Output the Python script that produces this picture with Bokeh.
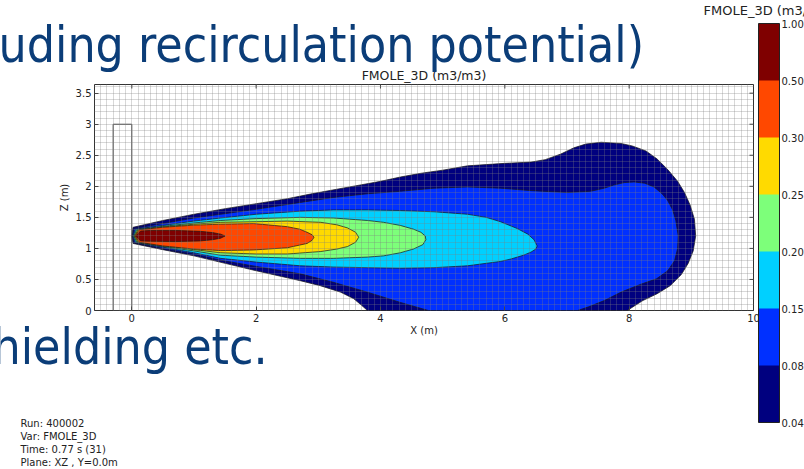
import numpy as np
from bokeh.plotting import figure
from bokeh.layouts import column, row
from bokeh.models import (Range1d, FixedTicker, ColorBar, LinearColorMapper, Label)
from bokeh.embed import file_html
from bokeh.resources import INLINE

# Contour levels of FMOLE_3D (m3/m3) and the fill colour of each band
levels = [0.04, 0.08, 0.15, 0.20, 0.25, 0.30, 0.50, 1.00]
band_colors = ["#00007f", "#0030ff", "#00d0ff", "#7dff7a", "#ffda00", "#ff4800", "#7f0000"]

# Axis ticks
x_ticks = [0, 2, 4, 6, 8, 10]
x_tick_labels = ["0", "2", "4", "6", "8", "10"]
z_ticks = [0, 0.5, 1, 1.5, 2, 2.5, 3, 3.5]
z_tick_labels = ["0", "0.5", "1", "1.5", "2", "2.5", "3", "3.5"]

# Wall next to the release point (m)
wall_x = [-0.3, 0.0]
wall_z = [0.0, 3.0]

# Outline of each filled contour band in the XZ plane (x, z in m)
c004_x = [0.00, 0.02, 0.5, 1.0, 1.5, 2.0, 2.5, 2.87, 3.5, 4.0, 4.32, 4.65, 5.0, 5.4, 6.0, 6.42, 6.65,
          6.90, 7.11, 7.30, 7.55, 7.87, 8.05, 8.27, 8.45, 8.62, 8.78, 8.89, 8.98, 9.05, 9.07, 9.03,
          8.95, 8.84, 8.66, 8.45, 8.22, 7.97, 3.79, 3.70, 3.57, 3.36, 3.03, 2.71, 2.0, 1.5, 1.0, 0.5, 0.02]
c004_z = [1.20, 1.34, 1.45, 1.55, 1.64, 1.72, 1.80, 1.875, 1.99, 2.08, 2.15, 2.21, 2.26, 2.33, 2.37, 2.39, 2.43,
          2.52, 2.62, 2.68, 2.71, 2.69, 2.65, 2.57, 2.44, 2.27, 2.08, 1.90, 1.70, 1.47, 1.20, 0.96,
          0.76, 0.58, 0.40, 0.27, 0.16, 0.0, 0.0, 0.08, 0.19, 0.295, 0.40, 0.48, 0.64, 0.76, 0.88, 0.98, 1.08]

c008_x = [0.01, 0.04, 0.5, 1.0, 1.43, 2.0, 2.71, 3.24, 3.79, 4.32, 4.86, 5.40, 5.93, 6.43, 7.01, 7.38,
          7.60, 7.75, 7.92, 8.08, 8.25, 8.40, 8.53, 8.62, 8.70, 8.75, 8.79, 8.78, 8.73, 8.62, 8.44, 8.18,
          7.88, 7.60, 7.35, 7.17, 4.77, 4.32, 3.79, 3.24, 2.71, 2.0, 1.43, 1.0, 0.5, 0.04]
c008_z = [1.20, 1.32, 1.40, 1.49, 1.55, 1.63, 1.74, 1.82, 1.88, 1.92, 1.97, 1.99, 1.97, 1.93, 1.90, 1.92,
          1.97, 2.02, 2.06, 2.07, 2.05, 1.99, 1.88, 1.77, 1.62, 1.45, 1.20, 1.00, 0.80, 0.64, 0.51, 0.42,
          0.30, 0.16, 0.06, 0.0, 0.0, 0.13, 0.295, 0.455, 0.59, 0.71, 0.81, 0.91, 1.00, 1.09]

c015_x = [0.02, 0.06, 0.5, 1.0, 1.43, 2.0, 2.71, 3.24, 3.79, 4.32, 4.86, 5.40, 5.70, 5.93, 6.20, 6.37,
          6.47, 6.52, 6.50, 6.42, 6.30, 6.10, 5.93, 5.40, 4.86, 4.32, 3.79, 3.24, 2.71, 2.0, 1.43, 1.0,
          0.5, 0.06]
c015_z = [1.20, 1.31, 1.37, 1.44, 1.49, 1.55, 1.60, 1.62, 1.62, 1.61, 1.59, 1.55, 1.50, 1.43, 1.32, 1.23,
          1.14, 1.04, 0.99, 0.94, 0.89, 0.83, 0.79, 0.72, 0.69, 0.68, 0.69, 0.70, 0.72, 0.78, 0.84, 0.93,
          1.02, 1.095]

c020_x = [0.03, 0.08, 0.5, 1.0, 1.43, 2.0, 2.71, 3.24, 3.79, 4.05, 4.32, 4.53, 4.65, 4.72, 4.73, 4.68,
          4.53, 4.32, 4.05, 3.79, 3.24, 2.71, 2.0, 1.43, 1.0, 0.5, 0.08]
c020_z = [1.20, 1.305, 1.355, 1.41, 1.45, 1.48, 1.50, 1.49, 1.45, 1.42, 1.37, 1.31, 1.26, 1.20, 1.14, 1.06,
          0.99, 0.93, 0.88, 0.86, 0.84, 0.84, 0.86, 0.89, 0.96, 1.03, 1.10]

c025_x = [0.04, 0.10, 0.5, 1.0, 1.43, 2.0, 2.5, 3.04, 3.30, 3.47, 3.60, 3.65, 3.60, 3.47, 3.30, 3.04,
          2.5, 2.0, 1.43, 1.0, 0.5, 0.10]
c025_z = [1.20, 1.30, 1.345, 1.39, 1.42, 1.43, 1.44, 1.42, 1.38, 1.33, 1.26, 1.18, 1.10, 1.03, 0.99, 0.95,
          0.91, 0.91, 0.93, 0.98, 1.04, 1.10]

c030_x = [0.05, 0.12, 0.5, 1.0, 1.43, 1.96, 2.5, 2.70, 2.82, 2.90, 2.93, 2.90, 2.82, 2.5, 1.96, 1.43,
          1.0, 0.5, 0.12]
c030_z = [1.20, 1.30, 1.34, 1.375, 1.39, 1.40, 1.35, 1.31, 1.26, 1.22, 1.18, 1.13, 1.08, 1.01, 0.975, 0.965,
          0.99, 1.04, 1.10]

c050_x = [0.06, 0.14, 0.3, 0.7, 1.1, 1.30, 1.43, 1.50, 1.43, 1.30, 1.1, 0.7, 0.3, 0.14]
c050_z = [1.20, 1.28, 1.29, 1.29, 1.275, 1.255, 1.23, 1.20, 1.165, 1.14, 1.12, 1.11, 1.115, 1.12]

# Run information printed under the plot
info_lines = ["Run: 400002", "Var: FMOLE_3D", "Time: 0.77 s (31)", "Plane: XZ , Y=0.0m"]

# Slide text around the figure
slide_line_1 = "uding recirculation potential)"
slide_line_2 = "hielding etc."

TICK_FONT = "DejaVu Sans"
INK = "#222222"
SLIDE_BLUE = "#0b3d78"
SLIDE_FONT = "'DejaVu Sans Condensed', 'Open Sans', sans-serif"

x_lo, x_hi = -0.6, 10.0
z_lo, z_hi = 0.0, 3.64

# ---------------------------------------------------------------- contour plot
p = figure(width=804, height=469, output_backend="svg", toolbar_location=None,
           x_range=Range1d(x_lo, x_hi), y_range=Range1d(z_lo, z_hi),
           min_border_left=94, min_border_right=51, min_border_top=84, min_border_bottom=159,
           title="FMOLE_3D (m3/m3)", x_axis_label="X (m)", y_axis_label="Z (m)")
p.background_fill_color = "white"
p.border_fill_color = "white"
p.outline_line_color = "#333333"
p.outline_line_width = 1

p.title.align = "center"
p.title.text_font = TICK_FONT
p.title.text_font_size = "12.5px"
p.title.text_font_style = "normal"
p.title.text_color = INK
p.title.standoff = 3

# Filled contour bands, lowest level first
outlines_x = [c004_x, c008_x, c015_x, c020_x, c025_x, c030_x, c050_x]
outlines_z = [c004_z, c008_z, c015_z, c020_z, c025_z, c030_z, c050_z]
p.patches(outlines_x, outlines_z, fill_color=band_colors, line_color="#1a1a1a",
          line_width=0.8, line_alpha=0.9)

# Wall outline
p.quad(left=[wall_x[0]], right=[wall_x[1]], bottom=[wall_z[0]], top=[wall_z[1]],
       fill_color=None, line_color="#444444", line_width=1)

# Computational mesh drawn over the bands
mesh_x = np.round(np.arange(x_lo, x_hi + 1e-6, 0.1), 2).tolist()
mesh_z = np.round(np.arange(z_lo, z_hi, 0.1), 2).tolist()
p.xgrid.ticker = FixedTicker(ticks=mesh_x)
p.ygrid.ticker = FixedTicker(ticks=mesh_z)
p.grid.grid_line_color = "#7f7f7f"
p.grid.grid_line_alpha = 0.3
p.grid.grid_line_width = 1
p.grid.level = "guide"

# Axes with inward ticks, matplotlib style
xaxis = p.xaxis[0]
yaxis = p.yaxis[0]
xaxis.ticker = FixedTicker(ticks=x_ticks)
yaxis.ticker = FixedTicker(ticks=z_ticks)
xaxis.major_label_overrides = {t: s for t, s in zip(x_ticks, x_tick_labels)}
yaxis.major_label_overrides = {t: s for t, s in zip(z_ticks, z_tick_labels)}
for ax in (xaxis, yaxis):
    ax.axis_line_color = None
    ax.major_tick_in = 4
    ax.major_tick_out = 0
    ax.major_tick_line_color = "#333333"
    ax.minor_tick_line_color = None
    ax.major_label_text_font = TICK_FONT
    ax.major_label_text_font_size = "10px"
    ax.major_label_text_color = INK
    ax.major_label_standoff = 3
    ax.axis_label_text_font = TICK_FONT
    ax.axis_label_text_font_style = "normal"
    ax.axis_label_text_font_size = "10px"
    ax.axis_label_text_color = INK
xaxis.axis_label_standoff = 0
yaxis.axis_label_standoff = 3

# Inward ticks on the top and right edges of the frame
p.ray(x=x_ticks, y=[z_hi] * len(x_ticks), length=4, length_units="screen",
      angle=-np.pi / 2, line_color="#333333", line_width=1)
p.ray(x=[x_hi] * len(z_ticks), y=z_ticks, length=4, length_units="screen",
      angle=np.pi, line_color="#333333", line_width=1)

# Colour bar for the contour levels
mapper = LinearColorMapper(palette=band_colors, low=0, high=len(band_colors))
cbar = ColorBar(color_mapper=mapper, ticker=FixedTicker(ticks=list(range(len(levels)))),
                major_label_overrides={i: f"{lv:.2f}" for i, lv in enumerate(levels)},
                width=21, height=399, padding=0, margin=0, location=(664, -112),
                bar_line_color="#222222", major_tick_line_color=None, minor_tick_line_color=None,
                label_standoff=2, major_label_text_font=TICK_FONT,
                major_label_text_font_size="10px", major_label_text_color=INK,
                background_fill_color=None, border_line_color=None)
p.add_layout(cbar, "center")

# ---------------------------------------------------------------- text layer
# A transparent page-sized layer laid over the plot; its units are page pixels (y down).
page = figure(width=804, height=469, output_backend="svg", toolbar_location=None,
              x_range=Range1d(0, 804), y_range=Range1d(469, 0), min_border=0,
              x_axis_type=None, y_axis_type=None, title=None)
page.outline_line_color = None
page.background_fill_color = None
page.border_fill_color = None


def page_text(x, baseline, text, font, size_px, color):
    # the label anchor sits about 0.38 em above the glyph baseline
    page.add_layout(Label(x=x, y=baseline - 0.38 * size_px, text=text, text_font=font,
                          text_font_size=f"{size_px}px", text_color=color,
                          text_baseline="alphabetic"))


page_text(703, 15, "FMOLE_3D (m3/m3)", TICK_FONT, 13, INK)
for i, line in enumerate(info_lines):
    page_text(20, 427 + 13 * i, line, TICK_FONT, 10, INK)
page_text(-2, 63, slide_line_1, SLIDE_FONT, 49.5, SLIDE_BLUE)
page_text(-8, 365, slide_line_2, SLIDE_FONT, 49.5, SLIDE_BLUE)

layer = row(page, margin=(-469, 0, 0, 0))
open("out.html", "w").write(file_html(column(p, layer, spacing=0), INLINE))
